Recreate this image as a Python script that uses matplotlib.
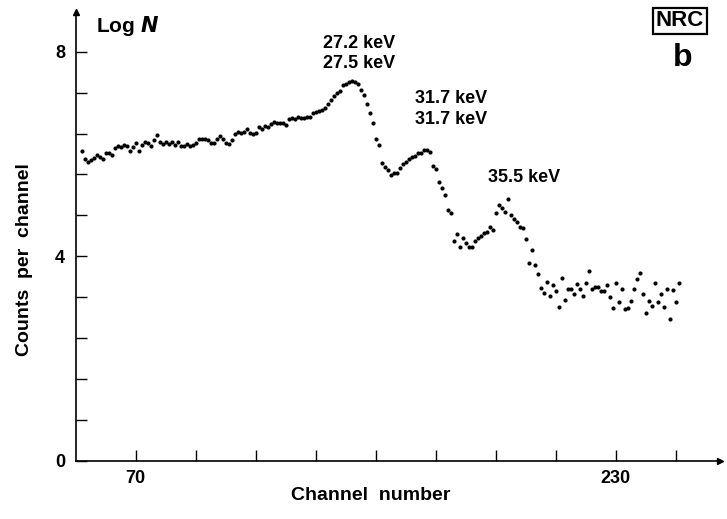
import matplotlib
matplotlib.use('Agg')
import matplotlib.pyplot as plt

plt.rcParams['font.family'] = ['Liberation Sans', 'DejaVu Sans']
plt.rcParams['font.weight'] = 'bold'

# channel numbers (one reading per channel)
channels = list(range(52, 252))

# log counts per channel
log_counts = [
    6.06, 5.90, 5.84, 5.88, 5.92, 5.98, 5.94, 5.90, 6.02, 6.02,   # 52-61
    5.98, 6.12, 6.15, 6.14, 6.17, 6.15, 6.06, 6.14, 6.21, 6.06,   # 62-71
    6.17, 6.23, 6.21, 6.15, 6.27, 6.37, 6.23, 6.20, 6.23, 6.19,   # 72-81
    6.23, 6.17, 6.23, 6.15, 6.15, 6.19, 6.15, 6.17, 6.21, 6.29,   # 82-91
    6.29, 6.29, 6.27, 6.21, 6.21, 6.29, 6.35, 6.29, 6.21, 6.19,   # 92-101
    6.27, 6.39, 6.43, 6.41, 6.43, 6.49, 6.41, 6.39, 6.41, 6.53,   # 102-111
    6.49, 6.55, 6.53, 6.59, 6.62, 6.60, 6.60, 6.60, 6.56, 6.68,   # 112-121
    6.70, 6.69, 6.72, 6.71, 6.70, 6.72, 6.73, 6.80, 6.82, 6.85,   # 122-131
    6.87, 6.90, 6.98, 7.05, 7.13, 7.20, 7.24, 7.36, 7.38, 7.40,   # 132-141
    7.42, 7.40, 7.37, 7.25, 7.15, 6.97, 6.80, 6.60, 6.29, 6.17,   # 142-151
    5.82, 5.75, 5.68, 5.59, 5.63, 5.63, 5.72, 5.80, 5.85, 5.90,   # 152-161
    5.95, 5.97, 6.02, 6.02, 6.07, 6.07, 6.03, 5.76, 5.70, 5.45,   # 162-171
    5.33, 5.20, 4.90, 4.84, 4.30, 4.43, 4.18, 4.35, 4.26, 4.18,   # 172-181
    4.18, 4.30, 4.35, 4.39, 4.45, 4.47, 4.58, 4.52, 4.84, 5.00,   # 182-191
    4.95, 4.86, 5.12, 4.80, 4.72, 4.66, 4.57, 4.55, 4.33, 3.86,   # 192-201
    4.12, 3.83, 3.65, 3.38, 3.28, 3.49, 3.22, 3.43, 3.32, 3.00,   # 202-211
    3.57, 3.14, 3.36, 3.36, 3.26, 3.45, 3.36, 3.22, 3.47, 3.71,   # 212-221
    3.36, 3.40, 3.40, 3.32, 3.32, 3.43, 3.20, 2.98, 3.47, 3.10,   # 222-231
    3.36, 2.96, 2.98, 3.12, 3.36, 3.55, 3.67, 3.26, 2.89, 3.12,   # 232-241
    3.02, 3.47, 3.10, 3.26, 3.00, 3.36, 2.77, 3.34, 3.10, 3.47,   # 242-251
]

# peak labels and where they sit (channel, log N)
peak_labels = ['27.2 keV\n27.5 keV', '31.7 keV\n31.7 keV', '35.5 keV']
peak_label_x = [144.5, 175.1, 199.6]
peak_label_y = [7.97, 6.88, 5.54]

xtick_vals = list(range(70, 251, 20))
xtick_text = ['70', '', '', '', '', '', '', '', '230', '']
ytick_vals = [0, 0.8, 1.6, 2.4, 3.2, 4, 4.8, 5.6, 6.4, 7.2, 8]
ytick_text = ['0', '', '', '', '', '4', '', '', '', '', '8']

W, H = 727, 519
fig = plt.figure(figsize=(W / 100, H / 100), dpi=100)
ax = fig.add_axes([76 / W, (H - 460.5) / H, (720 - 76) / W, (460.5 - 12) / H])

ax.plot(channels, log_counts, 'o', color='black', markersize=3.0, markeredgewidth=0)

ax.set_xlim(50.1, 264.8)
ax.set_ylim(0, 8.78)

for s in ['top', 'right']:
    ax.spines[s].set_visible(False)
for s in ['left', 'bottom']:
    ax.spines[s].set_linewidth(1.2)

ax.set_xticks(xtick_vals)
ax.set_xticklabels(xtick_text)
ax.set_yticks(ytick_vals)
ax.set_yticklabels(ytick_text)
ax.tick_params(axis='both', direction='in', length=8, width=1, labelsize=13)
ax.tick_params(axis='x', pad=7)
ax.tick_params(axis='y', pad=8)

# arrow heads on the axes
ax.plot(1, 0, '>', color='black', markersize=5, transform=ax.transAxes, clip_on=False)
ax.plot(0, 1, '^', color='black', markersize=5, transform=ax.transAxes, clip_on=False)

for lab, px, py in zip(peak_labels, peak_label_x, peak_label_y):
    ax.text(px, py, lab, ha='center', va='center', fontsize=13, linespacing=1.25)

fig.text(371 / W, 1 - 496 / H, 'Channel  number', ha='center', va='center', fontsize=14)
fig.text(25 / W, 1 - 260 / H, 'Counts  per  channel', ha='center', va='center',
         rotation=90, fontsize=14)
fig.text(96 / W, 1 - 26 / H, r'Log $\boldsymbol{N}$', ha='left', va='center', fontsize=15)
fig.text(680 / W, 1 - 21 / H, 'NRC', ha='center', va='center', fontsize=16,
         bbox=dict(boxstyle='square,pad=0.12', fc='white', ec='black', lw=1.6))
fig.text(683 / W, 1 - 58 / H, 'b', ha='center', va='center', fontsize=23)

fig.savefig('out.png', dpi=100)
